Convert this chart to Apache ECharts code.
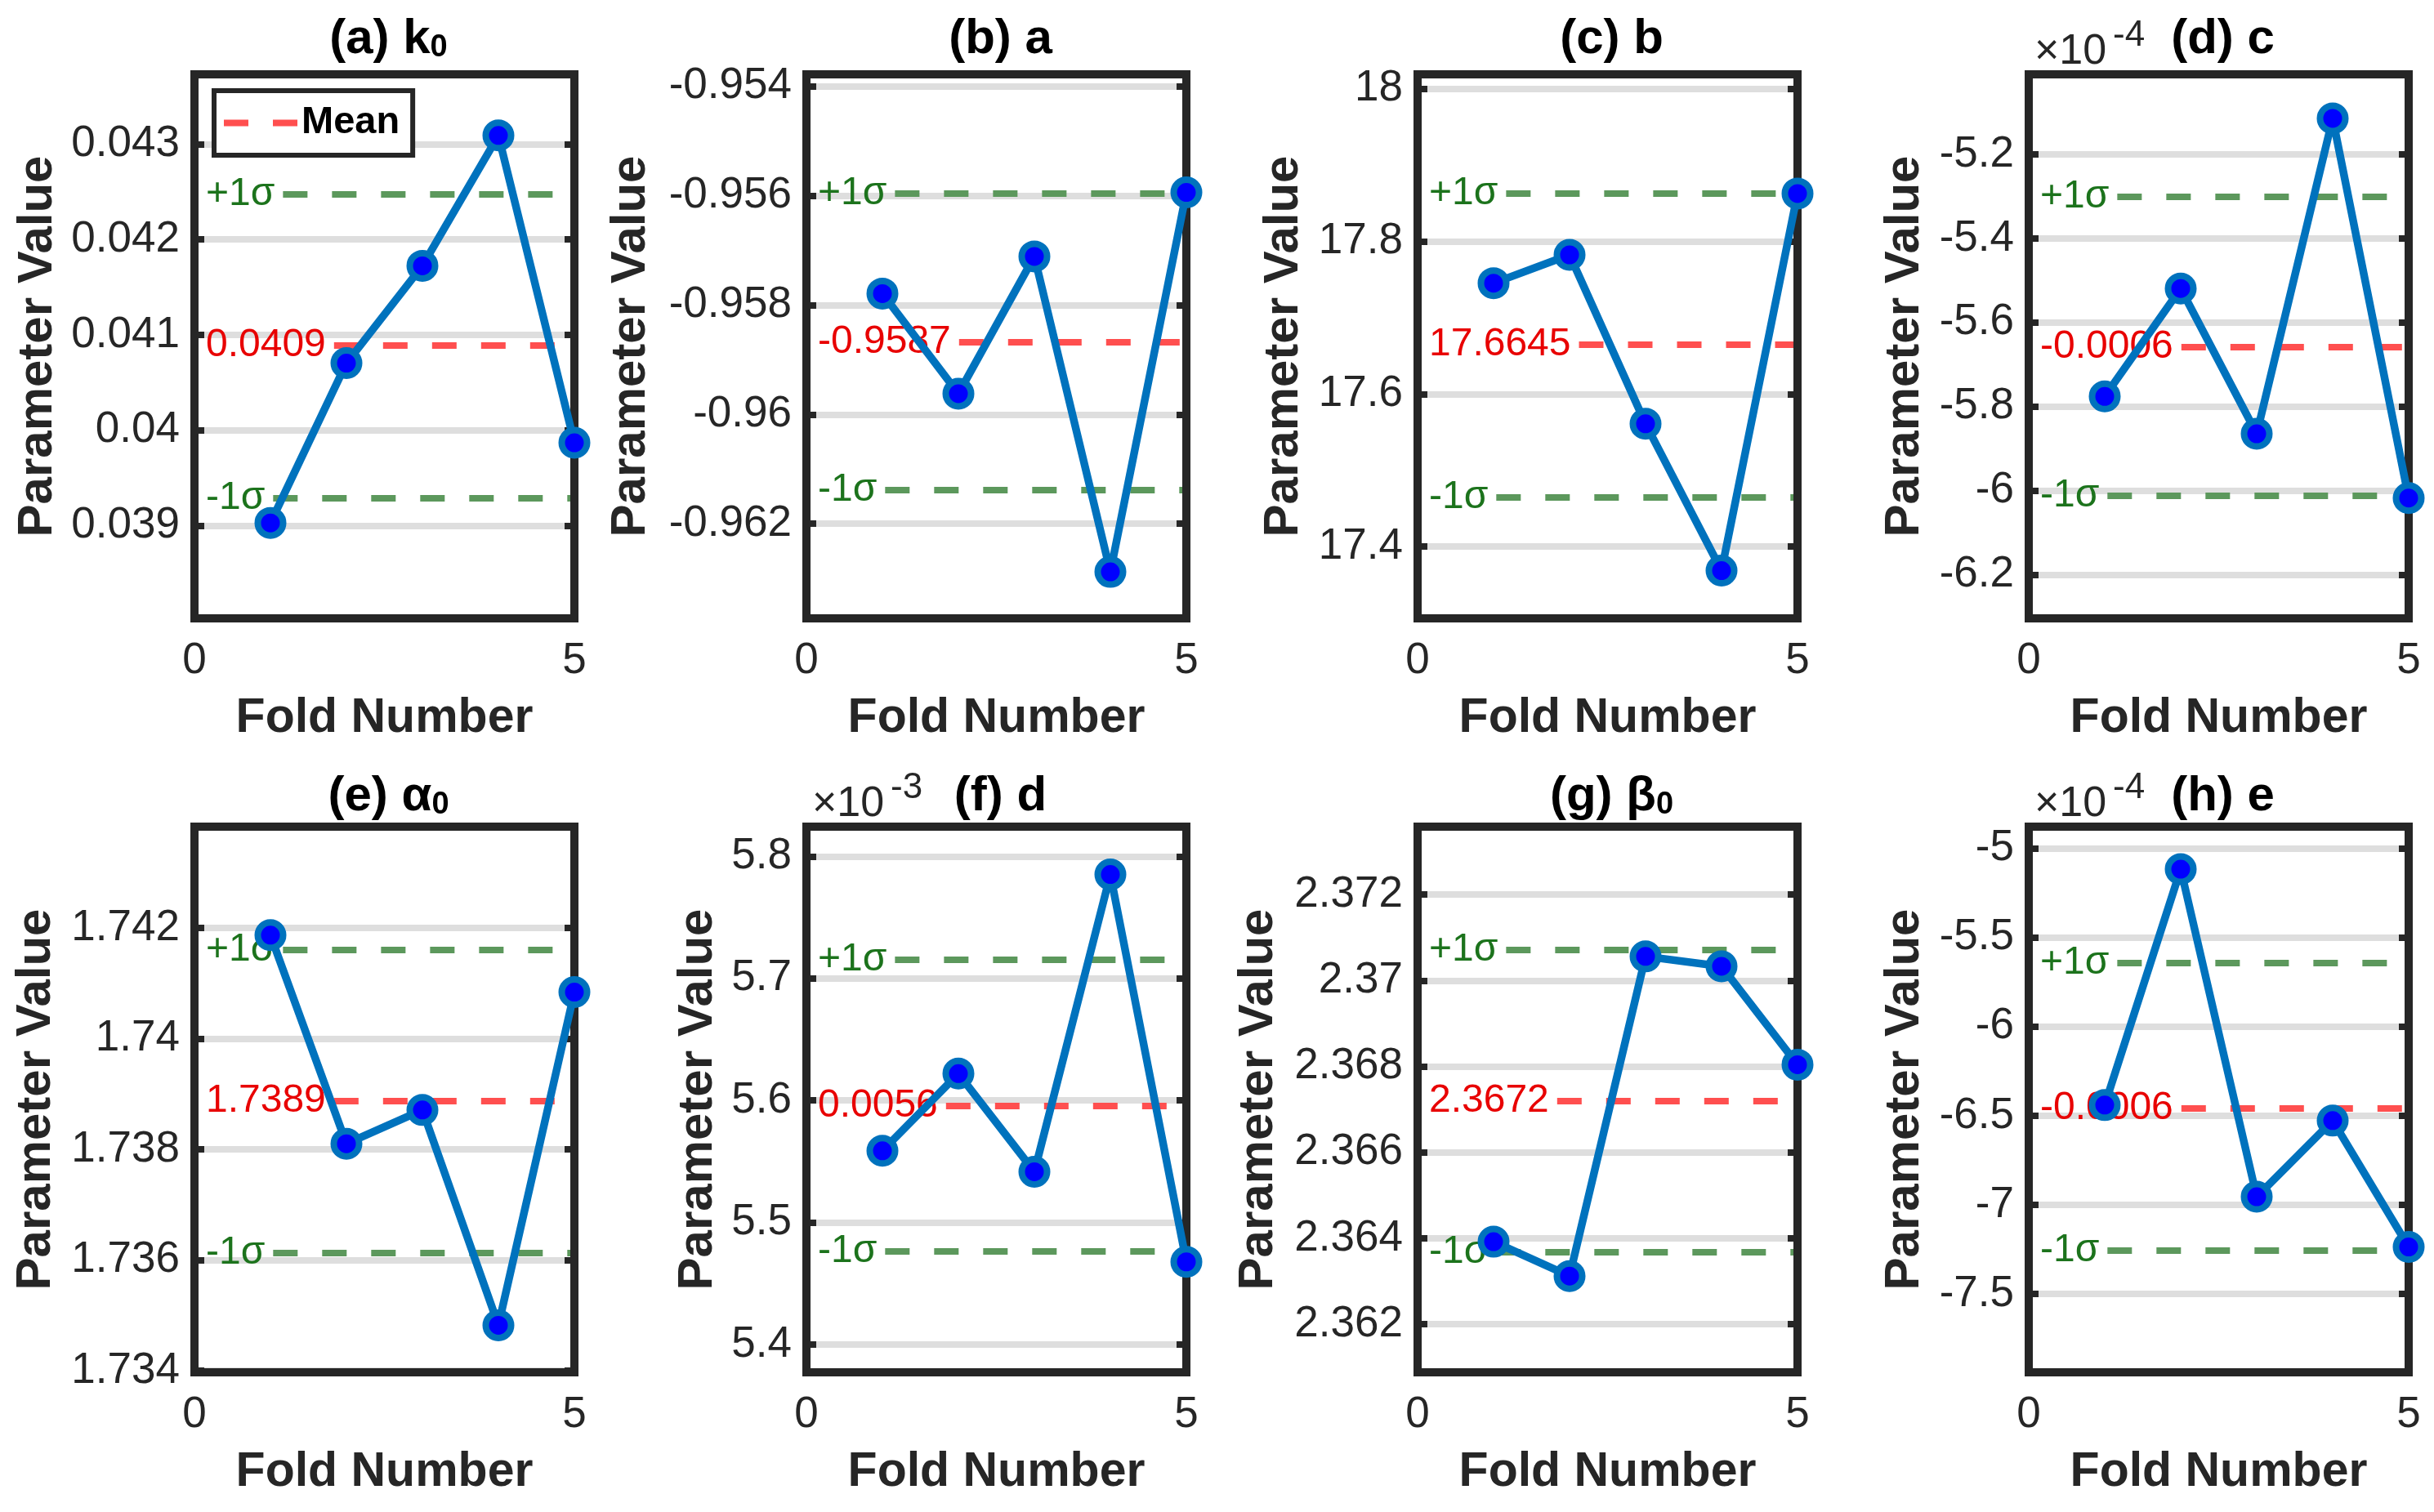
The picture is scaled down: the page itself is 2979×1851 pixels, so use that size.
<!DOCTYPE html>
<html><head><meta charset="utf-8">
<script src="https://cdn.jsdelivr.net/npm/echarts@6/dist/echarts.min.js"></script>
<style>html,body{margin:0;padding:0;background:#fff}#c{width:2979px;height:1851px}</style>
</head><body><div id="c"></div>
<script>
// ---------------- data ----------------
const folds = [1, 2, 3, 4, 5];
const titleMain = ['(a) k', '(b) a', '(c) b', '(d) c', '(e) α', '(f) d', '(g) β', '(h) e'];
const titleSub  = ['0', '', '', '', '0', '', '0', ''];
const exponents = [0, 0, 0, -4, 0, -3, 0, -4];

const valsK0    = [0.03903, 0.040704, 0.041724, 0.04309, 0.03987];
const valsA     = [-0.95779, -0.95962, -0.95711, -0.96288, -0.95594];
const valsB     = [17.7453, 17.7824, 17.561, 17.3686, 17.8628];
const valsC     = [-5.776, -5.519, -5.865, -5.114, -6.018];      // x 1e-4
const valsAlpha = [1.74187, 1.7381, 1.73871, 1.73482, 1.74084];
const valsD     = [5.5588, 5.622, 5.5416, 5.7851, 5.4678];       // x 1e-3
const valsBeta  = [2.36392, 2.36312, 2.37056, 2.37033, 2.36804];
const valsE     = [-6.44, -5.1165, -6.954, -6.527, -7.2356];     // x 1e-4
const seriesValues = [valsK0, valsA, valsB, valsC, valsAlpha, valsD, valsBeta, valsE];

const meanValues = [0.04089, -0.95867, 17.6645, -5.658, 1.73887, 5.5953, 2.36719, -6.456];
const meanLabels = ['0.0409', '-0.9587', '17.6645', '-0.0006', '1.7389', '0.0056', '2.3672', '-0.0006'];
const plusSigma  = [0.042472, -0.95596, 17.8628, -5.301, 1.74161, 5.7157, 2.37071, -5.6408];
const minusSigma = [0.039291, -0.96138, 17.4643, -6.0125, 1.73613, 5.4765, 2.36368, -7.2573];

const yMins = [0.03803, -0.96373, 17.306, -6.3045, 1.73397, 5.3773, 2.36088, -7.939];
const yMaxs = [0.04373, -0.95378, 18.019, -5.009, 1.74383, 5.8243, 2.37358, -4.878];
const yTicks = [
  [0.039, 0.04, 0.041, 0.042, 0.043],
  [-0.962, -0.96, -0.958, -0.956, -0.954],
  [17.4, 17.6, 17.8, 18],
  [-6.2, -6, -5.8, -5.6, -5.4, -5.2],
  [1.734, 1.736, 1.738, 1.74, 1.742],
  [5.4, 5.5, 5.6, 5.7, 5.8],
  [2.362, 2.364, 2.366, 2.368, 2.37, 2.372],
  [-7.5, -7, -6.5, -6, -5.5, -5]
];
const xTicks = [0, 5];

// ---------------- layout / style ----------------
const FONT = '"Liberation Sans", Arial, Helvetica, sans-serif';
const gridLefts = [238, 987, 1735, 2483];
const gridTops = [91, 1012];
const gridHeights = [666, 668];
const gridW = 465;
const titleYs = [43, 970];
const nameGaps = [162, 185, 134, 122, 164, 103, 165, 122];
const TXT = '#262626';
const BLUE = '#0072BD';
const labelPad = 14, labelGap = 10, labelSize = 48;

const ctx = document.createElement('canvas').getContext('2d');
function textW(t, size) { ctx.font = size + 'px ' + FONT; return ctx.measureText(t).width; }
function startX(t) { return 5 * (labelPad + textW(t, labelSize) + labelGap) / gridW; }

const grids = [], xAxes = [], yAxes = [], series = [], titles = [];

for (let i = 0; i < 8; i++) {
  const col = i % 4, row = Math.floor(i / 4);
  const left = gridLefts[col], top = gridTops[row], h = gridHeights[row];
  grids.push({ left: left, top: top, width: gridW, height: h, show: false });

  const lineCommon = { show: true, onZero: false, lineStyle: { color: TXT, width: 10, cap: 'square' } };
  xAxes.push({
    type: 'value', gridIndex: i, min: 0, max: 5, interval: 5, position: 'bottom', z: 5,
    axisLine: lineCommon, axisTick: { show: false }, splitLine: { show: false },
    axisLabel: { fontSize: 53, color: TXT, margin: 26, fontFamily: FONT, customValues: xTicks },
    name: 'Fold Number', nameLocation: 'middle', nameGap: 93,
    nameTextStyle: { fontSize: 59, fontWeight: 'bold', color: TXT, fontFamily: FONT }
  });
  xAxes.push({
    type: 'value', gridIndex: i, min: 0, max: 5, interval: 5, position: 'top', z: 5,
    axisLine: lineCommon, axisTick: { show: false }, splitLine: { show: false },
    axisLabel: { show: false }
  });
  const tickStyle = { show: true, inside: true, length: 12, lineStyle: { color: TXT, width: 8 }, customValues: yTicks[i] };
  yAxes.push({
    type: 'value', gridIndex: i, min: yMins[i], max: yMaxs[i], position: 'left', z: 5,
    axisLine: lineCommon, axisTick: tickStyle, splitLine: { show: false },
    axisLabel: { fontSize: 53, color: TXT, margin: 18, fontFamily: FONT, customValues: yTicks[i],
      formatter: v => String(v) },
    name: 'Parameter Value', nameLocation: 'middle', nameGap: nameGaps[i],
    nameTextStyle: { fontSize: 60, fontWeight: 'bold', color: TXT, fontFamily: FONT }
  });
  yAxes.push({
    type: 'value', gridIndex: i, min: yMins[i], max: yMaxs[i], position: 'right', z: 5,
    axisLine: lineCommon, axisTick: tickStyle, splitLine: { show: false },
    axisLabel: { show: false }
  });

  // gridlines + mean / sigma lines as mark lines (under the data)
  const ml = [];
  yTicks[i].forEach(t => ml.push([
    { coord: [0, t], lineStyle: { color: '#dedede', width: 8, type: 'solid' }, label: { show: false } },
    { coord: [5, t] }
  ]));
  const sig = [['+1σ', plusSigma[i]], ['-1σ', minusSigma[i]]];
  sig.forEach(([lab, v]) => ml.push([
    { coord: [startX(lab), v], lineStyle: { color: '#5c985c', width: 8, type: [30, 30] },
      label: { show: true, position: 'start', formatter: lab, color: '#1c731c', fontSize: labelSize, fontFamily: FONT, distance: labelGap } },
    { coord: [5, v] }
  ]));
  ml.push([
    { coord: [startX(meanLabels[i]), meanValues[i]], lineStyle: { color: '#ff4f4f', width: 8, type: [30, 30] },
      label: { show: true, position: 'start', formatter: meanLabels[i], color: '#e80000', fontSize: labelSize, fontFamily: FONT, distance: labelGap } },
    { coord: [5, meanValues[i]] }
  ]);

  series.push({
    type: 'line', name: 'Mean', xAxisIndex: 2 * i, yAxisIndex: 2 * i, data: [], z: 1,
    symbol: 'none', silent: true, animation: false,
    itemStyle: { color: '#ff4f4f' },
    lineStyle: { color: '#ff4f4f', width: 8, type: [30, 30] },
    markLine: { symbol: ['none', 'none'], silent: true, animation: false, precision: 10, data: ml }
  });
  series.push({
    type: 'line', name: 'Values', xAxisIndex: 2 * i, yAxisIndex: 2 * i, z: 10, clip: false,
    data: folds.map((f, k) => [f, seriesValues[i][k]]),
    symbol: 'circle', symbolSize: 31, showSymbol: true, silent: true, animation: false,
    itemStyle: { color: '#0000ff', borderColor: BLUE, borderWidth: 8 },
    lineStyle: { color: BLUE, width: 9.5 }
  });

  const cx = left + gridW / 2;
  titles.push({
    text: '{m|' + titleMain[i] + '}' + (titleSub[i] ? '{s|' + titleSub[i] + '}' : ''),
    left: cx, top: titleYs[row], textAlign: 'center', textVerticalAlign: 'middle',
    textStyle: { rich: {
      m: { fontSize: 60, fontWeight: 'bold', color: '#000', fontFamily: FONT, verticalAlign: 'bottom' },
      s: { fontSize: 38, fontWeight: 'bold', color: '#000', fontFamily: FONT, verticalAlign: 'bottom' }
    } }
  });
  if (exponents[i] !== 0) {
    titles.push({
      text: '×10', left: left + 2, top: top - 32, textVerticalAlign: 'middle',
      textStyle: { fontSize: 52, fontWeight: 'normal', color: TXT, fontFamily: FONT }
    });
    titles.push({
      text: String(exponents[i]), left: left + 98, top: top - 52, textVerticalAlign: 'middle',
      textStyle: { fontSize: 44, fontWeight: 'normal', color: TXT, fontFamily: FONT }
    });
  }
}

const chart = echarts.init(document.getElementById('c'), null, { renderer: 'canvas' });
chart.setOption({
  backgroundColor: '#fff',
  animation: false,
  title: titles,
  legend: {
    data: [{ name: 'Mean', icon: 'path://M0,0 L30,0 L30,8 L0,8 Z M60,0 L90,0 L90,8 L60,8 Z',
      itemStyle: { color: '#ff4f4f', borderWidth: 0 } }],
    left: 262, top: 111, orient: 'horizontal',
    itemWidth: 90, itemHeight: 8, padding: [16, 16, 16, 12],
    borderColor: TXT, borderWidth: 6, backgroundColor: '#fff', selectedMode: false, z: 20,
    textStyle: { fontSize: 47, fontWeight: 'bold', color: '#000', fontFamily: FONT }
  },
  grid: grids, xAxis: xAxes, yAxis: yAxes, series: series
});
</script></body></html>
